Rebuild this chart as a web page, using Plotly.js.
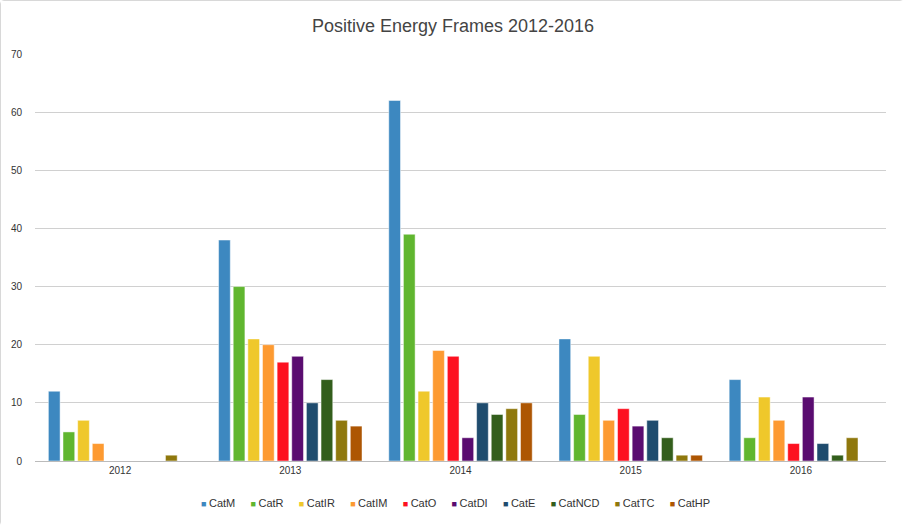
<!DOCTYPE html>
<html>
<head>
<meta charset="utf-8">
<script src="https://cdn.plot.ly/plotly-3.0.1.min.js"></script>
<style>
html,body{margin:0;padding:0;background:#fff;}
#chart{width:904px;height:526px;box-sizing:border-box;border:1px solid #d8d8d8;border-radius:4px;}
</style>
</head>
<body>
<div id="chart"></div>
<script>
const years = ['2012', '2013', '2014', '2015', '2016'];
const seriesNames = ['CatM', 'CatR', 'CatIR', 'CatIM', 'CatO', 'CatDI', 'CatE', 'CatNCD', 'CatTC', 'CatHP'];
const CatM   = [12, 38, 62, 21, 14];
const CatR   = [5, 30, 39, 8, 4];
const CatIR  = [7, 21, 12, 18, 11];
const CatIM  = [3, 20, 19, 7, 7];
const CatO   = [0, 17, 18, 9, 3];
const CatDI  = [0, 18, 4, 6, 11];
const CatE   = [0, 10, 10, 7, 3];
const CatNCD = [0, 14, 8, 4, 1];
const CatTC  = [1, 7, 9, 1, 4];
const CatHP  = [0, 6, 10, 1, 0];
const yTicks = [0, 10, 20, 30, 40, 50, 60, 70];

const seriesValues = [CatM, CatR, CatIR, CatIM, CatO, CatDI, CatE, CatNCD, CatTC, CatHP];
const colors = ['#3d88c0', '#60b62f', '#efc82b', '#fd9a31', '#fd1120', '#5a0c70', '#1f4c6e', '#335e1c', '#8f780d', '#ad5603'];

const traces = seriesNames.map((n, i) => ({
  type: 'bar',
  name: n,
  x: years,
  y: seriesValues[i],
  marker: {color: colors[i], line: {color: 'rgba(255,255,255,0.6)', width: 0.8}},
  showlegend: false,
  hoverinfo: 'x+y+name'
}));

// legend built as one text line: coloured square + name per series
const NB = '\u00A0';
const legendText = seriesNames.map((n, i) =>
  '<span style="color:' + colors[i] + ';font-size:9px">\u25A0' + NB + '</span>' + n
).join(NB + NB + NB + NB + NB);

const layout = {
  width: 904,
  height: 526,
  margin: {l: 34, r: 19, t: 53, b: 66},
  paper_bgcolor: '#ffffff',
  plot_bgcolor: '#ffffff',
  font: {family: 'Liberation Sans, Arial, sans-serif', color: '#333'},
  title: {text: 'Positive Energy Frames 2012-2016', x: 0.5, xanchor: 'center', y: 0.953, yanchor: 'middle', font: {size: 18, color: '#444'}},
  barmode: 'group',
  bargap: 0.14,
  bargroupgap: 0.2,
  xaxis: {
    type: 'category',
    showgrid: false,
    showline: true,
    linecolor: '#bbbbbb',
    linewidth: 1,
    ticks: '',
    tickfont: {size: 10, color: '#333'},
    fixedrange: true
  },
  yaxis: {
    range: [0, 70],
    tickvals: yTicks,
    ticktext: yTicks.map(String),
    showgrid: true,
    gridcolor: '#d0d0d0',
    gridwidth: 1,
    zeroline: false,
    showline: false,
    ticks: '',
    ticklabelstandoff: 12,
    tickfont: {size: 10, color: '#333'},
    fixedrange: true
  },
  annotations: [{
    text: legendText,
    xref: 'paper', yref: 'paper',
    x: 0.494, xanchor: 'center',
    y: -0.103, yanchor: 'middle',
    showarrow: false,
    font: {size: 11, color: '#333'}
  }],
  showlegend: false
};

Plotly.newPlot('chart', traces, layout, {displayModeBar: false, staticPlot: true});
</script>
</body>
</html>
